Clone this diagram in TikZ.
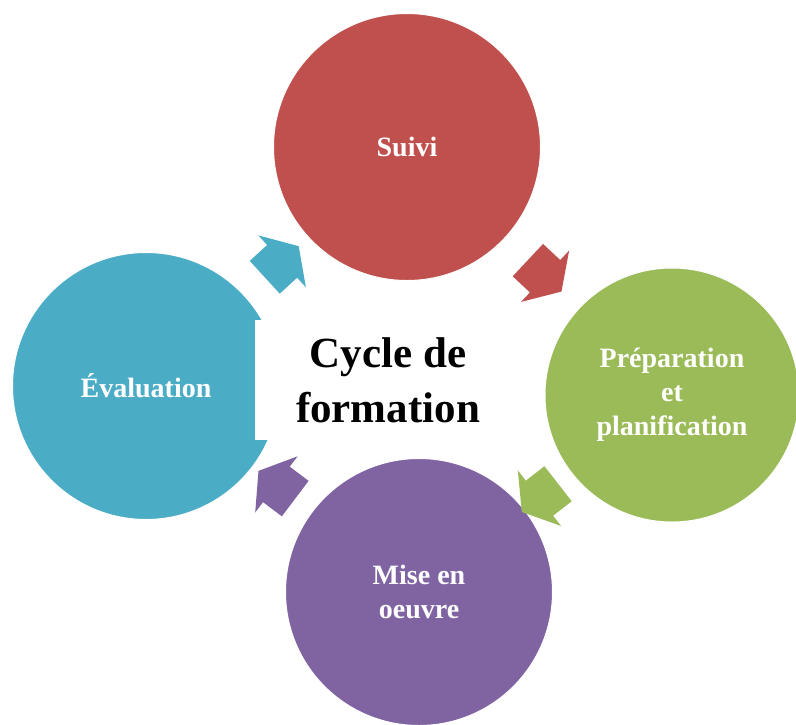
\documentclass[tikz,border=0pt]{standalone}
\usepackage{fontspec}
\setmainfont{Liberation Serif}
\usepackage{tikz}
\usetikzlibrary{shapes.arrows, calc}

\definecolor{suivired}{RGB}{192,80,77}
\definecolor{prepgreen}{RGB}{155,187,89}
\definecolor{misepurple}{RGB}{128,100,162}
\definecolor{evalblue}{RGB}{75,172,198}

\begin{document}
\begin{tikzpicture}[x=1pt, y=-1pt,
		phase/.style={circle, fill=#1, draw=white, line width=1pt, minimum size=267pt, inner sep=0pt,
				text=white, align=center, font=\bfseries\fontsize{28}{34}\selectfont},
		flow/.style={single arrow, fill=#1, inner xsep=0pt, inner ysep=22pt, minimum height=46pt,
				single arrow head extend=13pt, single arrow tip angle=115}]
		\useasboundingbox (0,0) rectangle (796,724);

		% the four steps of the cycle
		\node[phase=suivired] (suivi) at (407,147) {Suivi};
		\node[phase=prepgreen, minimum size=254pt] (prep) at (672,395) {Préparation\\et\\planification};
		\node[phase=misepurple] (mise) at (419,592) {Mise en\\oeuvre};
		\node[phase=evalblue] (eval) at (146,386) {Évaluation};

		% title box in the middle
		\node[fill=white, minimum width=266pt, minimum height=120pt, align=center,
				font=\bfseries\fontsize{43}{55}\selectfont] (cycle) at (388,380) {Cycle de\\formation};

		% block arrows half way between two steps
		\foreach \from/\to/\col in {eval/suivi/evalblue, suivi/prep/suivired, prep/mise/prepgreen, mise/eval/misepurple} {
				\path let \p1 = ($(\to)-(\from)$), \n1 = {atan2(\y1,\x1)} in
					node[flow=\col, rotate=\n1] (arrow-\from) at ($(\from)!0.5!(\to)$) {};
			}
	\end{tikzpicture}
\end{document}
